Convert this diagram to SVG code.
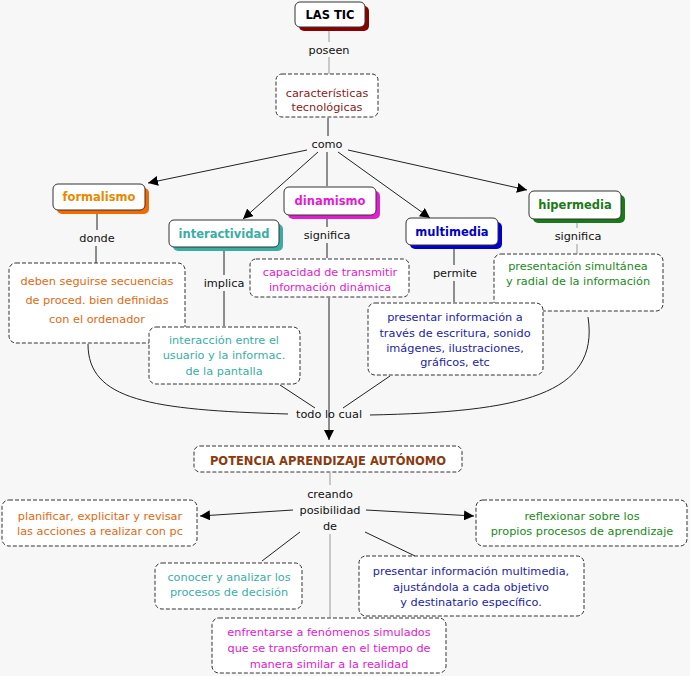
<svg xmlns="http://www.w3.org/2000/svg" width="690" height="676" viewBox="0 0 690 676">
<defs>
<marker id="ar" viewBox="0 0 10 10" refX="10" refY="5" markerWidth="10" markerHeight="10" markerUnits="userSpaceOnUse" orient="auto"><path d="M0,0L10,5L0,10z" fill="#000"/></marker>
</defs>
<style>
text{font-family:"DejaVu Sans",Verdana,sans-serif;font-size:11.3px;text-anchor:middle}
.b{font-weight:bold;font-size:11.5px}
.box{fill:#fff;stroke:#333;stroke-width:1}
.dash{fill:#fff;stroke:#333;stroke-width:1;stroke-dasharray:4,2}
.ln{fill:none;stroke:#222;stroke-width:1}
.gl{fill:none;stroke:#999;stroke-width:1}
.lbl{fill:#111}
</style>
<rect width="690" height="676" fill="#f7f7f7"/>
<g id="connectors">
<path class="gl" d="M329,27V42M329,57V74"/>
<path class="ln" d="M328,118V136"/>
<path class="ln" d="M307,150L148,183" marker-end="url(#ar)"/>
<path class="ln" d="M318,152L243,219" marker-end="url(#ar)"/>
<path class="ln" d="M327,152V186"/>
<path class="ln" d="M338,152L430,218" marker-end="url(#ar)"/>
<path class="ln" d="M348,150L527,190" marker-end="url(#ar)"/>
<path class="ln" d="M97,211V230M96,246V263"/>
<path class="ln" d="M224,247V275M224,291V326"/>
<path class="ln" d="M327,216V227M327,243V258"/>
<path class="ln" d="M454,245V265M454,281V302"/>
<path class="gl" d="M577,219V228M577,244V254"/>
<path class="ln" d="M88,344C88,400 150,410 288,414"/>
<path class="ln" d="M280,385L315,408"/>
<path class="ln" d="M329,298V440" marker-end="url(#ar)"/>
<path class="ln" d="M390,376L343,408"/>
<path class="ln" d="M588,317C600,395 520,412 370,415"/>
<path class="gl" d="M330,473V485"/>
<path class="ln" d="M293,510L200,516" marker-end="url(#ar)"/>
<path class="ln" d="M366,510L474,516" marker-end="url(#ar)"/>
<path class="ln" d="M300,532L262,561"/>
<path class="ln" d="M365,532L415,556"/>
<path class="gl" d="M330,534V617"/>
</g>
<g id="labels">
<text class="lbl" x="329" y="54">poseen</text>
<text class="lbl" x="327" y="148">como</text>
<text class="lbl" x="97" y="242">donde</text>
<text class="lbl" x="327" y="239">significa</text>
<text class="lbl" x="455" y="277">permite</text>
<text class="lbl" x="578" y="240">significa</text>
<text class="lbl" x="224" y="287">implica</text>
<text class="lbl" x="329" y="418">todo lo cual</text>
<text class="lbl" x="330" y="498">creando</text>
<text class="lbl" x="330" y="514">posibilidad</text>
<text class="lbl" x="330" y="530">de</text>
</g>
<g id="lastic"><rect x="299" y="6" width="70" height="25" rx="5" fill="#8b0000"/><rect class="box" x="295" y="2" width="70" height="25" rx="5"/><text class="b" x="330" y="19" fill="#000">LAS TIC</text></g>
<g id="caracteristicas"><rect class="dash" x="276" y="74" width="102" height="43" rx="6"/><text x="327" y="97" fill="#8b1a1a">características</text><text x="327" y="111" fill="#8b1a1a">tecnológicas</text></g>
<g id="formalismo"><rect x="57" y="188" width="92" height="26" rx="5" fill="#f26a00"/><rect class="box" x="53" y="184" width="92" height="26" rx="5"/><text class="b" x="99" y="201" fill="#e68a00">formalismo</text></g>
<g id="interactividad"><rect x="173" y="224" width="110" height="27" rx="5" fill="#3aaea6"/><rect class="box" x="169" y="220" width="110" height="27" rx="5"/><text class="b" x="224" y="238" fill="#3aaea6">interactividad</text></g>
<g id="dinamismo"><rect x="288" y="191" width="92" height="28" rx="5" fill="#e020d0"/><rect class="box" x="284" y="187" width="92" height="28" rx="5"/><text class="b" x="330" y="205" fill="#e020d0">dinamismo</text></g>
<g id="multimedia"><rect x="410" y="222" width="92" height="27" rx="5" fill="#0000cc"/><rect class="box" x="406" y="218" width="92" height="27" rx="5"/><text class="b" x="452" y="236" fill="#0000cc">multimedia</text></g>
<g id="hipermedia"><rect x="533" y="195" width="92" height="28" rx="5" fill="#1a7a1a"/><rect class="box" x="529" y="191" width="92" height="28" rx="5"/><text class="b" x="575" y="209" fill="#1a7a1a">hipermedia</text></g>
<g id="deben"><rect class="dash" x="9" y="263" width="176" height="80" rx="7"/><text x="97" y="285" fill="#e06a10">deben seguirse secuencias</text><text x="97" y="304" fill="#e06a10">de proced. bien definidas</text><text x="97" y="323" fill="#e06a10">con el ordenador</text></g>
<g id="capacidad"><rect class="dash" x="250" y="259" width="159" height="38" rx="6"/><text x="330" y="276" fill="#e020d0">capacidad de transmitir</text><text x="330" y="291" fill="#e020d0">información dinámica</text></g>
<g id="simultanea"><rect class="dash" x="494" y="254" width="169" height="57" rx="7"/><text x="578" y="270" fill="#1a8a1a">presentación simultánea</text><text x="578" y="285" fill="#1a8a1a">y radial de la información</text></g>
<g id="interaccion"><rect class="dash" x="149" y="327" width="151" height="57" rx="7"/><text x="224" y="344" fill="#3aaea6">interacción entre el</text><text x="224" y="359" fill="#3aaea6">usuario y la informac.</text><text x="224" y="375" fill="#3aaea6">de la pantalla</text></g>
<g id="presentar"><rect class="dash" x="368" y="303" width="175" height="72" rx="7"/><text x="455" y="321" fill="#2222aa">presentar información a</text><text x="455" y="337" fill="#2222aa">través de escritura, sonido</text><text x="455" y="352" fill="#2222aa">imágenes, ilustraciones,</text><text x="455" y="366" fill="#2222aa">gráficos, etc</text></g>
<g id="potencia"><rect class="dash" x="194" y="446" width="268" height="26" rx="6"/><text class="b" x="328" y="465" fill="#8b3a0f">POTENCIA APRENDIZAJE AUTÓNOMO</text></g>
<g id="planificar"><rect class="dash" x="2" y="500" width="195" height="46" rx="7"/><text x="100" y="520" fill="#e06a10">planificar, explicitar y revisar</text><text x="100" y="535" fill="#e06a10">las acciones a realizar con pc</text></g>
<g id="reflexionar"><rect class="dash" x="476" y="500" width="211" height="46" rx="7"/><text x="582" y="520" fill="#1a8a1a">reflexionar sobre los</text><text x="582" y="535" fill="#1a8a1a">propios procesos de aprendizaje</text></g>
<g id="conocer"><rect class="dash" x="155" y="563" width="147" height="46" rx="7"/><text x="229" y="581" fill="#3aaea6">conocer y analizar los</text><text x="229" y="596" fill="#3aaea6">procesos de decisión</text></g>
<g id="multimediaobj"><rect class="dash" x="359" y="556" width="225" height="60" rx="7"/><text x="471" y="575" fill="#2222aa">presentar información multimedia,</text><text x="471" y="591" fill="#2222aa">ajustándola a cada objetivo</text><text x="471" y="606" fill="#2222aa">y destinatario específico.</text></g>
<g id="enfrentarse"><rect class="dash" x="212" y="618" width="234" height="55" rx="7"/><text x="329" y="636" fill="#e020d0">enfrentarse a fenómenos simulados</text><text x="329" y="652" fill="#e020d0">que se transforman en el tiempo de</text><text x="329" y="668" fill="#e020d0">manera similar a la realidad</text></g>
</svg>
